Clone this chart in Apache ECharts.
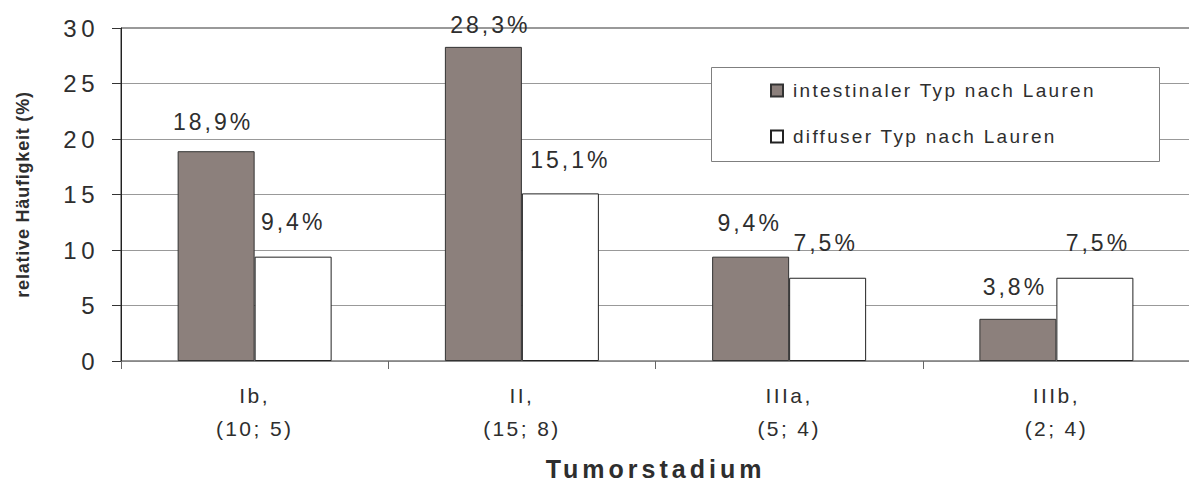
<!DOCTYPE html>
<html>
<head>
<meta charset="utf-8">
<title>Tumorstadium nach Lauren-Typ</title>
<script src="https://cdn.jsdelivr.net/npm/echarts@6/dist/echarts.min.js"></script>
<style>
  html, body { margin: 0; padding: 0; background: #ffffff; }
  #chart { width: 1189px; height: 486px; }
  /* wide character spacing, per text size */
  #chart text[style*="25px"] { letter-spacing: 4px; }
  #chart text[style*="24px"] { letter-spacing: 4.5px; }
  #chart text[style*="23px"] { letter-spacing: 3px; }
  #chart text[style*="21px"] { letter-spacing: 2.4px; }
  #chart text[style*="19px"] { letter-spacing: 2.3px; }
  #chart text[style*="18px"] { letter-spacing: 0.8px; }
</style>
</head>
<body>
<div id="chart"></div>
<script>
// Tumour stages with case counts (intestinal; diffuse)
const stages = ['Ib', 'II', 'IIIa', 'IIIb'];
const countsIntestinal = [10, 15, 5, 2];
const countsDiffuse = [5, 8, 4, 4];

// relative frequency in percent
const intestinal = [18.9, 28.3, 9.4, 3.8];
const diffuse = [9.4, 15.1, 7.5, 7.5];

const seriesNames = ['intestinaler Typ nach Lauren', 'diffuser Typ nach Lauren'];
const yTicks = [0, 5, 10, 15, 20, 25, 30];

// hand-placed value label nudges [dx, dy] in pixels
const nudgeIntestinal = [[-3, -18], [7, -11], [-1, -23], [-3, -21]];
const nudgeDiffuse = [[0, -24], [10, -22], [-2, -24], [3, -24]];

const FONT = '"Liberation Sans", Arial, sans-serif';
const TEXT = '#2e2e2e';

const categories = stages.map((s, i) => s + ',\n(' + countsIntestinal[i] + '; ' + countsDiffuse[i] + ')');
const pct = v => v.toFixed(1).replace('.', ',') + '%';

function withLabels(values, nudges) {
  return values.map((v, i) => ({
    value: v,
    label: { offset: nudges[i] }
  }));
}

const labelStyle = {
  show: true,
  position: 'top',
  distance: 0,
  fontFamily: FONT,
  fontSize: 23,
  lineHeight: 22,
  color: TEXT,
  formatter: p => pct(p.value)
};

const chart = echarts.init(document.getElementById('chart'), null, { renderer: 'svg' });

chart.setOption({
  animation: false,
  backgroundColor: '#ffffff',
  textStyle: { fontFamily: FONT },
  grid: {
    left: 121, right: -1, top: 28, bottom: 125,
    outerBoundsMode: 'none', containLabel: false,
    show: true, borderColor: '#333333', borderWidth: 1, backgroundColor: 'transparent'
  },
  xAxis: {
    type: 'category',
    data: categories,
    boundaryGap: true,
    axisLine: { show: true, lineStyle: { color: '#888888', width: 1 } },
    axisTick: { show: true, length: 8, interval: 0, lineStyle: { color: '#666666' } },
    axisLabel: {
      interval: 0,
      margin: 18,
      fontFamily: FONT,
      fontSize: 21,
      lineHeight: 33,
      color: TEXT
    },
    name: 'Tumorstadium',
    nameLocation: 'middle',
    nameGap: 95,
    nameTextStyle: { fontFamily: FONT, fontSize: 25, fontWeight: 'bold', color: TEXT }
  },
  yAxis: {
    type: 'value',
    min: yTicks[0],
    max: yTicks[yTicks.length - 1],
    interval: 5,
    axisLine: { show: true, lineStyle: { color: '#222222', width: 1 } },
    axisTick: { show: true, length: 9, inside: false, lineStyle: { color: '#333333' } },
    axisLabel: { margin: 22, fontFamily: FONT, fontSize: 24, color: TEXT },
    splitLine: { show: true, lineStyle: { color: '#999999', width: 1 } },
    name: 'relative Häufigkeit (%)',
    nameLocation: 'middle',
    nameGap: 89,
    nameTextStyle: { fontFamily: FONT, fontSize: 18, fontWeight: 'bold', color: TEXT }
  },
  legend: {
    data: seriesNames,
    orient: 'vertical',
    left: 770,
    top: 81,
    padding: 0,
    itemWidth: 12,
    itemHeight: 12,
    itemGap: 27,
    icon: 'rect',
    z: 100,
    textStyle: { fontFamily: FONT, fontSize: 19, color: TEXT, padding: [0, 0, 0, 5] }
  },
  graphic: [{
    type: 'rect',
    z: 50,
    silent: true,
    shape: { x: 711.5, y: 67.5, width: 448, height: 94 },
    style: { fill: '#ffffff', stroke: '#7f7f7f', lineWidth: 1 }
  }],
  series: [
    {
      name: seriesNames[0],
      type: 'bar',
      barWidth: 77,
      barGap: '0%',
      itemStyle: { color: '#8c807c', borderColor: '#333333', borderWidth: 1 },
      label: labelStyle,
      data: withLabels(intestinal, nudgeIntestinal)
    },
    {
      name: seriesNames[1],
      type: 'bar',
      barWidth: 77,
      barGap: '0%',
      itemStyle: { color: '#ffffff', borderColor: '#222222', borderWidth: 1 },
      label: labelStyle,
      data: withLabels(diffuse, nudgeDiffuse)
    }
  ]
});
</script>
</body>
</html>
